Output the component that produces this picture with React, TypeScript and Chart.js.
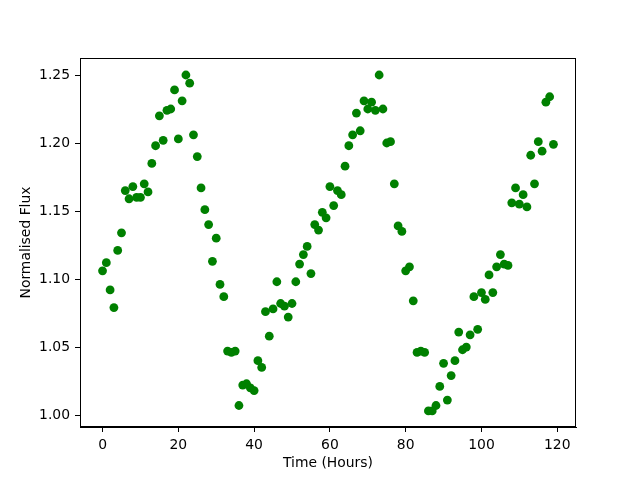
import React, { useEffect, useRef } from "react";
import { Chart, registerables } from "chart.js";

Chart.register(...registerables);

const timeHours: number[] = [
  0, 1, 2, 3, 4, 5, 6, 7, 8, 9, 10, 11, 12, 13, 14, 15, 16, 17, 18, 19,
  20, 21, 22, 23, 24, 25, 26, 27, 28, 29, 30, 31, 32, 33, 34, 35, 36, 37, 38, 39,
  40, 41, 42, 43, 44, 45, 46, 47, 48, 49, 50, 51, 52, 53, 54, 55, 56, 57, 58, 59,
  60, 61, 62, 63, 64, 65, 66, 67, 68, 69, 70, 71, 72, 73, 74, 75, 76, 77, 78, 79,
  80, 81, 82, 83, 84, 85, 86, 87, 88, 89, 90, 91, 92, 93, 94, 95, 96, 97, 98, 99,
  100, 101, 102, 103, 104, 105, 106, 107, 108, 109, 110, 111, 112, 113, 114, 115, 116, 117, 118, 119,
];

const normalisedFlux: number[] = [
  1.106, 1.112, 1.092, 1.079, 1.121, 1.134, 1.165, 1.159, 1.168, 1.160, 1.160, 1.170, 1.164, 1.185, 1.198, 1.220, 1.202, 1.224, 1.225, 1.239,
  1.203, 1.231, 1.250, 1.244, 1.206, 1.190, 1.167, 1.151, 1.140, 1.113, 1.130, 1.096, 1.087, 1.047, 1.046, 1.047, 1.007, 1.022, 1.023, 1.020,
  1.018, 1.040, 1.035, 1.076, 1.058, 1.078, 1.098, 1.082, 1.080, 1.072, 1.082, 1.098, 1.111, 1.118, 1.124, 1.104, 1.140, 1.136, 1.149, 1.145,
  1.168, 1.154, 1.165, 1.162, 1.183, 1.198, 1.206, 1.222, 1.209, 1.231, 1.225, 1.230, 1.224, 1.250, 1.225, 1.200, 1.201, 1.170, 1.139, 1.135,
  1.106, 1.109, 1.084, 1.046, 1.047, 1.046, 1.003, 1.003, 1.007, 1.021, 1.038, 1.011, 1.029, 1.040, 1.061, 1.048, 1.050, 1.059, 1.087, 1.063,
  1.090, 1.085, 1.103, 1.090, 1.109, 1.118, 1.111, 1.110, 1.156, 1.167, 1.155, 1.162, 1.153, 1.191, 1.170, 1.201, 1.194, 1.230, 1.234, 1.199,
];

const xTickValues: number[] = [0, 20, 40, 60, 80, 100, 120];
const yTickValues: number[] = [1.0, 1.05, 1.1, 1.15, 1.2, 1.25];

const xLabel = "Time (Hours)";
const yLabel = "Normalised Flux";

const FONT = { family: "'DejaVu Sans', sans-serif", size: 13.9 };

const boxPlugin = {
  id: "boxPlugin",
  afterDatasetsDraw(chart: any) {
    const { ctx, chartArea } = chart;
    ctx.save();
    ctx.strokeStyle = "#000";
    ctx.lineWidth = 1;
    ctx.strokeRect(
      Math.round(chartArea.left) + 0.5,
      Math.round(chartArea.top) + 0.5,
      Math.round(chartArea.right - chartArea.left) - 1,
      Math.round(chartArea.bottom - chartArea.top) - 1
    );
    ctx.restore();
  },
};

export default function App() {
  const canvasRef = useRef<HTMLCanvasElement | null>(null);

  useEffect(() => {
    if (!canvasRef.current) return;
    const points = timeHours.map((t, i) => ({ x: t, y: normalisedFlux[i] }));
    const chart = new Chart(canvasRef.current, {
      type: "scatter",
      data: {
        datasets: [
          {
            data: points,
            backgroundColor: "#008000",
            borderColor: "#008000",
            borderWidth: 0,
            pointRadius: 4.4,
            pointHoverRadius: 4.4,
          },
        ],
      },
      options: {
        responsive: false,
        animation: false,
        events: [],
        layout: { padding: { top: 58, right: 64, left: 0, bottom: 0 } },
        plugins: {
          legend: { display: false },
          tooltip: { enabled: false },
          title: { display: false },
        },
        scales: {
          x: {
            type: "linear",
            min: -5.95,
            max: 124.95,
            afterBuildTicks: (scale: any) => {
              scale.ticks = xTickValues.map((v) => ({ value: v }));
            },
            afterFit: (scale: any) => {
              scale.height = 53;
            },
            ticks: {
              color: "#000",
              font: FONT,
              padding: 5,
              maxRotation: 0,
              autoSkip: false,
              callback: (v: any) => String(v),
            },
            grid: { drawOnChartArea: false, drawTicks: true, tickLength: 5, color: "#000" },
            border: { display: true, color: "#000" },
            title: {
              display: true,
              text: xLabel,
              color: "#000",
              font: FONT,
              padding: { top: 0, bottom: 8 },
            },
          },
          y: {
            type: "linear",
            min: 0.9912,
            max: 1.2625,
            afterBuildTicks: (scale: any) => {
              scale.ticks = yTickValues.map((v) => ({ value: v }));
            },
            afterFit: (scale: any) => {
              scale.width = 80;
            },
            ticks: {
              color: "#000",
              font: FONT,
              padding: 5,
              autoSkip: false,
              callback: (v: any) => Number(v).toFixed(2),
            },
            grid: { drawOnChartArea: false, drawTicks: true, tickLength: 5, color: "#000" },
            border: { display: true, color: "#000" },
            title: {
              display: true,
              text: yLabel,
              color: "#000",
              font: FONT,
              padding: { top: 18, bottom: 0 },
            },
          },
        },
      },
      plugins: [boxPlugin],
    });
    return () => chart.destroy();
  }, []);

  return (
    <div style={{ position: "absolute", left: 0, top: 0, width: 640, height: 480, background: "#fff" }}>
      <canvas ref={canvasRef} width={640} height={480} style={{ display: "block" }} />
    </div>
  );
}
